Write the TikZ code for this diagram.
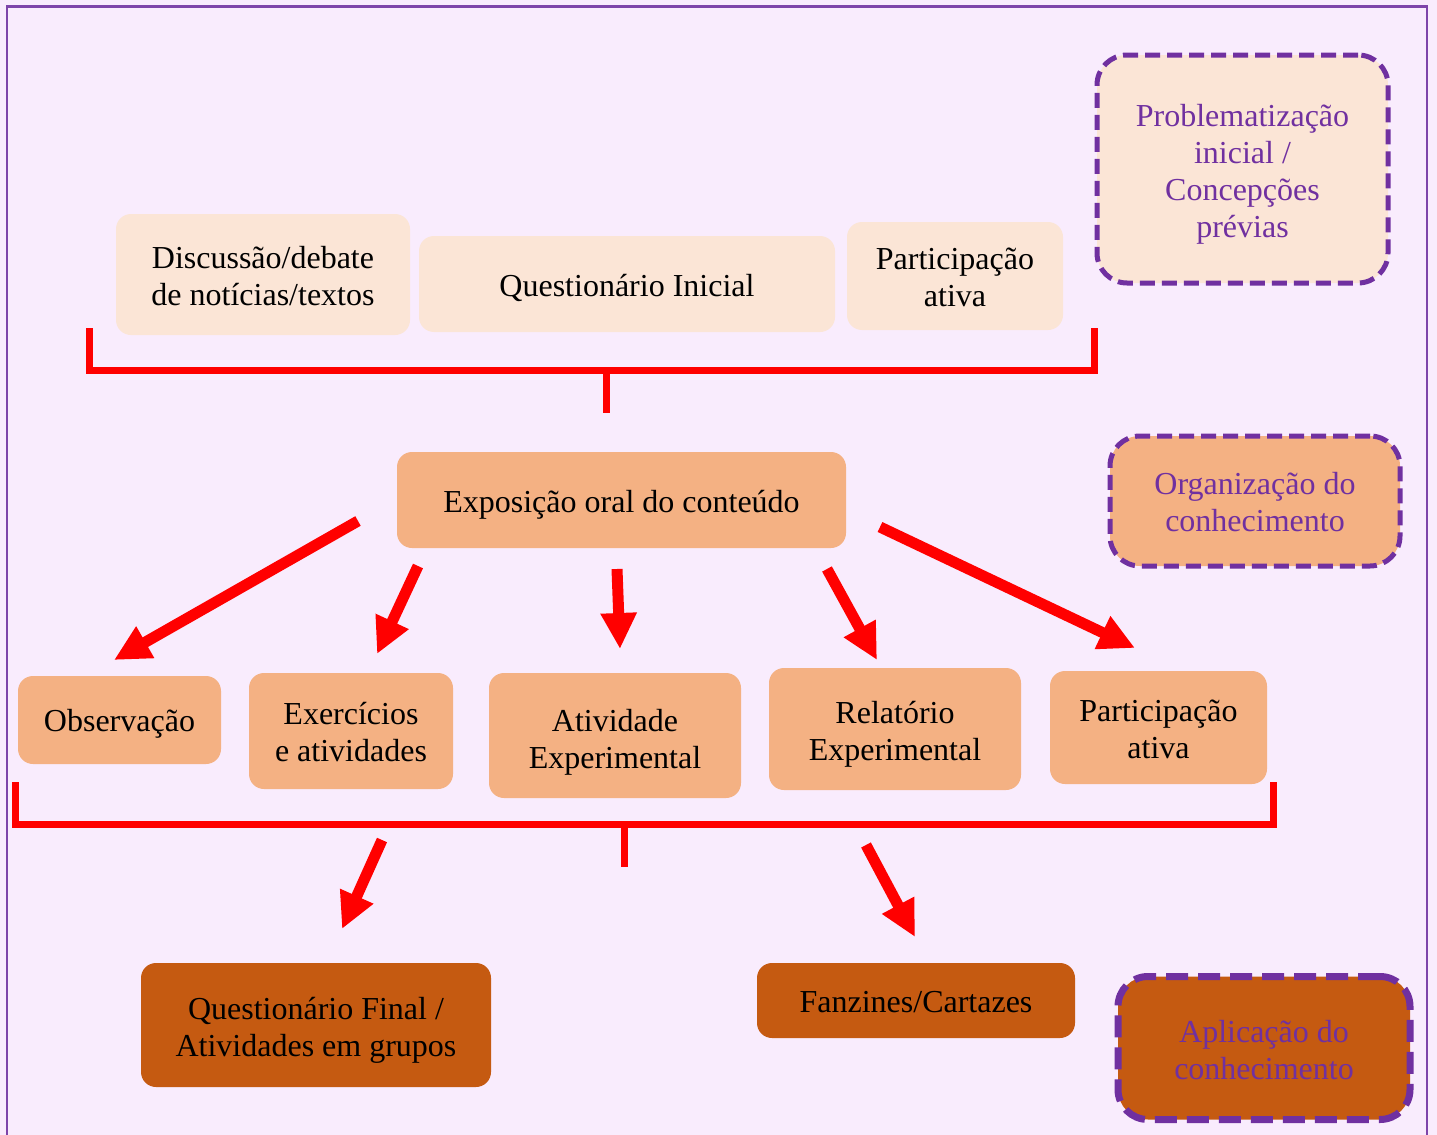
\documentclass[tikz,border=0pt]{standalone}
\usepackage{fontspec}
\setmainfont{Liberation Serif}
\usetikzlibrary{arrows.meta}
\definecolor{bgc}{HTML}{F9ECFD}
\definecolor{lightbox}{HTML}{FBE5D6}
\definecolor{midbox}{HTML}{F4B183}
\definecolor{darkbox}{HTML}{C55A11}
\definecolor{purp}{HTML}{7030A0}
\tikzset{
  box/.style={rounded corners=7.5pt, inner sep=0pt},
  lbox/.style={box, fill=lightbox},
  mbox/.style={box, fill=midbox},
  dbox/.style={box, fill=darkbox},
  txt/.style={inner sep=0pt, align=center, font=\fontsize{16}{18.5}\selectfont, text=black},
  ptxt/.style={txt, text=purp},
  phase/.style={rounded corners=15pt, inner sep=0pt, draw=purp, line width=2.5pt, dash pattern=on 7.5pt off 3.5pt},
  redarrow/.style={draw=red, line width=5.5pt, -{Triangle[length=18pt,width=17pt]}},
  bracket/.style={draw=red, line width=3.5pt, line join=miter},
}
\begin{document}
\begin{tikzpicture}[x=0.5pt,y=-0.5pt]
\useasboundingbox (0,0) rectangle (1437,1135);
\fill[bgc] (0,0) rectangle (1437,1135);
\draw[purp!90!white, line width=1.3pt] (7,1140) -- (7,6.5) -- (1427,6.5) -- (1427,1140);

% top row
\node[lbox, minimum width=147pt, minimum height=60.5pt] (disc) at (263,274.5) {};
\node[txt] (disc-t) at ([yshift=-1pt]disc.center) {Discussão/debate\\de notícias/textos};
\node[lbox, minimum width=208pt, minimum height=48pt] (qini) at (627,284) {};
\node[txt] (qini-t) at ([yshift=-2pt]qini.center) {Questionário Inicial};
\node[lbox, minimum width=108pt, minimum height=54pt] (part1) at (955,276) {};
\node[txt] (part1-t) at ([yshift=-0.5pt]part1.center) {Participação\\ativa};
\node[phase, fill=lightbox, minimum width=145.5pt, minimum height=114pt] (prob) at (1242.5,169) {};
\node[ptxt] (prob-t) at ([yshift=-2.5pt]prob.center) {Problematização\\inicial /\\Concepções\\prévias};

% bracket 1
\coordinate (b1a) at (89,328);
\coordinate (b1b) at (89,370);
\coordinate (b1c) at (1094,370);
\coordinate (b1d) at (1094,328);
\coordinate (b1m) at (606,370);
\coordinate (b1s) at (606,413);
\draw[bracket] (b1a) -- (b1b) -- (b1c) -- (b1d);
\draw[bracket] (b1m) -- (b1s);

% middle
\node[mbox, minimum width=224.5pt, minimum height=48pt] (expo) at (621.5,500) {};
\node[txt] (expo-t) at ([yshift=-2.5pt]expo.center) {Exposição oral do conteúdo};
\node[phase, fill=midbox, minimum width=145pt, minimum height=65pt] (org) at (1255,501) {};
\node[ptxt] (org-t) at ([yshift=-0.75pt]org.center) {Organização do\\conhecimento};

% row of activities
\node[mbox, minimum width=101.5pt, minimum height=44pt] (obs) at (119.5,720) {};
\node[txt] (obs-t) at ([yshift=-2pt]obs.center) {Observação};
\node[mbox, minimum width=102pt, minimum height=58pt] (exer) at (351,731) {};
\node[txt] (exer-t) at ([yshift=-0.5pt]exer.center) {Exercícios\\e atividades};
\node[mbox, minimum width=126pt, minimum height=62.5pt] (ativ) at (615,735.5) {};
\node[txt] (ativ-t) at ([yshift=-3.25pt]ativ.center) {Atividade\\Experimental};
\node[mbox, minimum width=126pt, minimum height=61pt] (rel) at (895,729) {};
\node[txt] (rel-t) at ([yshift=-2.5pt]rel.center) {Relatório\\Experimental};
\node[mbox, minimum width=108.5pt, minimum height=56.5pt] (part2) at (1158.5,727.5) {};
\node[txt] (part2-t) at ([yshift=-1pt]part2.center) {Participação\\ativa};

% arrows from exposition
\coordinate (a1s) at (358,521); \coordinate (a1e) at (114,660);
\coordinate (a2s) at (418,566); \coordinate (a2e) at (377,654);
\coordinate (a3s) at (617,569); \coordinate (a3e) at (620,649);
\coordinate (a4s) at (827,569); \coordinate (a4e) at (877,660);
\coordinate (a5s) at (880,527); \coordinate (a5e) at (1135,648);
\draw[redarrow] (a1s) -- (a1e);
\draw[redarrow] (a2s) -- (a2e);
\draw[redarrow] (a3s) -- (a3e);
\draw[redarrow] (a4s) -- (a4e);
\draw[redarrow] (a5s) -- (a5e);

% bracket 2
\coordinate (b2a) at (15,782);
\coordinate (b2b) at (15,824);
\coordinate (b2c) at (1273,824);
\coordinate (b2d) at (1273,782);
\coordinate (b2m) at (624,824);
\coordinate (b2s) at (624,867);
\draw[bracket] (b2a) -- (b2b) -- (b2c) -- (b2d);
\draw[bracket] (b2m) -- (b2s);

% arrows to final
\coordinate (a6s) at (382,840); \coordinate (a6e) at (342,929);
\coordinate (a7s) at (866,845); \coordinate (a7e) at (915,937);
\draw[redarrow] (a6s) -- (a6e);
\draw[redarrow] (a7s) -- (a7e);

% bottom
\node[dbox, minimum width=175pt, minimum height=62pt] (qfin) at (316,1025) {};
\node[txt] (qfin-t) at ([yshift=-2.5pt]qfin.center) {Questionário Final /\\Atividades em grupos};
\node[dbox, minimum width=159pt, minimum height=37.5pt] (fanz) at (916,1000.5) {};
\node[txt] (fanz-t) at ([yshift=-1pt]fanz.center) {Fanzines/Cartazes};
\node[phase, fill=darkbox, line width=3.5pt, dash pattern=on 11pt off 5pt, minimum width=146pt, minimum height=71.5pt] (apl) at (1264,1048) {};
\node[ptxt] (apl-t) at ([yshift=-1.25pt]apl.center) {Aplicação do\\conhecimento};
\end{tikzpicture}
\end{document}
